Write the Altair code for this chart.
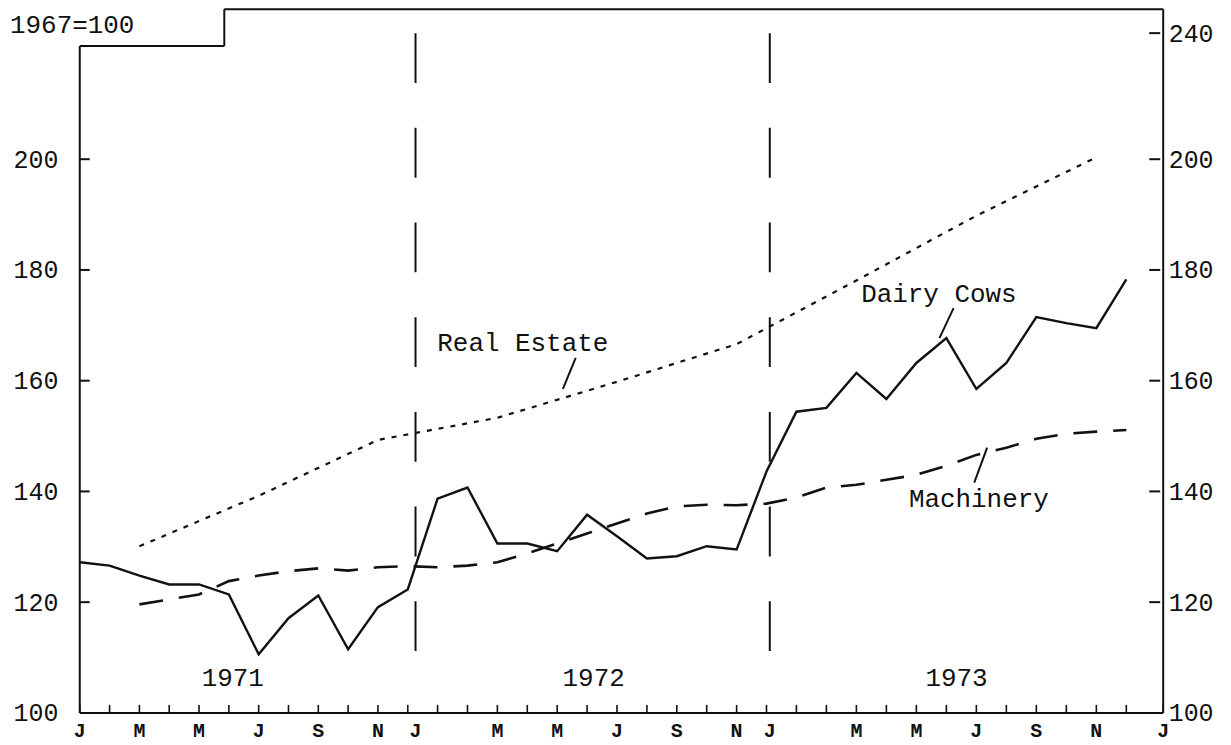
import altair as alt
import pandas as pd

# ---------------- data ----------------
dairy_month = list(range(0, 36))
dairy_cows = [127.2, 126.6, 124.8, 123.2, 123.2, 121.4, 110.6, 117.1, 121.2, 111.5, 119.1, 122.3,
              138.7, 140.7, 130.6, 130.6, 129.2, 135.8, 131.9, 127.9, 128.3, 130.1, 129.5, 143.6,
              154.4, 155.1, 161.4, 156.7, 163.2, 167.7, 158.5, 163.2, 171.5, 170.4, 169.5, 178.3]

machinery_month = list(range(2, 36))
machinery = [119.6, 120.5, 121.4, 123.8, 124.8, 125.6, 126.1, 125.7, 126.3, 126.5,
             126.3, 126.6, 127.2, 128.8, 130.6, 132.4, 134.2, 136.0, 137.3, 137.6, 137.5, 137.8,
             138.9, 140.7, 141.2, 142.1, 143.0, 144.6, 146.6, 147.9, 149.5, 150.4, 150.8, 151.1]

real_estate_month = [2, 6, 10, 14, 18, 22, 26, 30, 34]
real_estate = [130.1, 139.2, 149.3, 153.3, 159.8, 166.6, 178.1, 189.8, 200.6]

left_ticks = [100, 120, 140, 160, 180, 200]
right_ticks = [100, 120, 140, 160, 180, 200, 240]
all_months = list(range(0, 37))

label_months = [0, 2, 4, 6, 8, 10, 11.26, 14, 16, 18, 20, 22, 23.11, 26, 28, 30, 32, 34, 36]
label_text = ["J", "M", "M", "J", "S", "N", "J", "M", "M", "J", "S", "N", "J",
              "M", "M", "J", "S", "N", "J"]

year_month = [5.13, 17.22, 29.34]
year_value = [104.9, 104.9, 104.9]
year_text = ["1971", "1972", "1973"]

divider_month = [11.26, 23.11]

series_label_month = [11.99, 26.16, 27.75]
series_label_value = [165.3, 174.3, 137.1]
series_label_text = ["Real Estate", "Dairy Cows", "Machinery"]

leader_m1 = [16.62, 29.24, 30.36]
leader_v1 = [164.1, 173.1, 147.9]
leader_m2 = [16.19, 28.77, 29.93]
leader_v2 = [158.5, 167.7, 141.6]

# ---------------- layout ----------------
W, H = 1087, 706
INK = "#111111"
MONO = "Liberation Mono"

xs = alt.Scale(domain=[0, 12, 24, 35, 36], range=[0, 359, 719, 1050, W])
ys = alt.Scale(domain=[100, 200, 240, 247.6], range=[H, 150.5, 24, 0])

def X(field):
    return alt.X(field, type="quantitative", scale=xs, axis=None)

def Y(field, axis=None):
    return alt.Y(field, type="quantitative", scale=ys, axis=axis)

df_dairy = pd.DataFrame({"m": dairy_month, "v": dairy_cows})
df_mach = pd.DataFrame({"m": machinery_month, "v": machinery})
df_re = pd.DataFrame({"m": real_estate_month, "v": real_estate})

left_axis = alt.Axis(orient="left", values=left_ticks, domain=False, ticks=False, grid=False,
                     labelFont=MONO, labelFontSize=25, labelColor=INK, labelPadding=22,
                     title=None)
right_axis = alt.Axis(orient="right", values=right_ticks, domain=False, ticks=False, grid=False,
                      labelFont=MONO, labelFontSize=25, labelColor=INK, labelPadding=5,
                      title=None)

dairy = alt.Chart(df_dairy).mark_line(color=INK, strokeWidth=2.4).encode(
    x=X("m"), y=Y("v", left_axis))
mach = alt.Chart(df_mach).mark_line(color=INK, strokeWidth=2.6, strokeDash=[24, 16]).encode(
    x=X("m"), y=Y("v"))
re = alt.Chart(df_re).mark_line(color=INK, strokeWidth=2.2, strokeDash=[5, 7]).encode(
    x=X("m"), y=Y("v", right_axis))

# inward ticks
lt = alt.Chart(pd.DataFrame({"v": left_ticks[1:]})).mark_rule(color=INK, strokeWidth=2).encode(
    y=Y("v"), x=alt.value(0), x2=alt.value(10))
rt = alt.Chart(pd.DataFrame({"v": right_ticks[1:]})).mark_rule(color=INK, strokeWidth=2).encode(
    y=Y("v"), x=alt.value(W - 14), x2=alt.value(W - 3))
bt = alt.Chart(pd.DataFrame({"m": all_months})).mark_rule(color=INK, strokeWidth=1.6).encode(
    x=X("m"), y=alt.value(H), y2=alt.value(H - 8))

# dashed year dividers
div = alt.Chart(pd.DataFrame({"m": divider_month})).mark_rule(
    color=INK, strokeWidth=2, strokeDash=[50, 45]).encode(
    x=X("m"), y=alt.value(24), y2=alt.value(686))

# frame (stepped top-left corner)
def seg(x1, y1, x2, y2):
    return alt.Chart(pd.DataFrame({"k": [0]})).mark_rule(color=INK, strokeWidth=2).encode(
        x=alt.value(x1), x2=alt.value(x2), y=alt.value(y1), y2=alt.value(y2))

frame = [
    seg(0, 37, 0, H),
    seg(0, 37, 145, 37),
    seg(145, 0, 145, 37),
    seg(145, 0, W, 0),
    seg(W, 0, W, H),
    seg(0, H, W, H),
]

# text
months_txt = alt.Chart(pd.DataFrame({"m": label_months, "t": label_text})).mark_text(
    font=MONO, fontSize=20, color=INK, baseline="middle", align="center", fontWeight="bold").encode(
    x=X("m"), y=alt.value(H + 18), text="t:N")

years_txt = alt.Chart(pd.DataFrame({"m": year_month, "v": year_value, "t": year_text})).mark_text(
    font=MONO, fontSize=26, color=INK, baseline="alphabetic", align="center").encode(
    x=X("m"), y=Y("v"), text="t:N")

series_txt = alt.Chart(pd.DataFrame({"m": series_label_month, "v": series_label_value,
                                     "t": series_label_text})).mark_text(
    font=MONO, fontSize=26, color=INK, baseline="alphabetic", align="left").encode(
    x=X("m"), y=Y("v"), text="t:N")

leaders = alt.Chart(pd.DataFrame({"m1": leader_m1, "v1": leader_v1,
                                  "m2": leader_m2, "v2": leader_v2})).mark_rule(
    color=INK, strokeWidth=2).encode(
    x=X("m1"), x2="m2:Q", y=Y("v1"), y2="v2:Q")

base_txt = alt.Chart(pd.DataFrame({"t": ["1967=100"]})).mark_text(
    font=MONO, fontSize=26, color=INK, baseline="middle", align="left").encode(
    x=alt.value(-70), y=alt.value(16), text="t:N")

chart = alt.layer(
    div, *frame, lt, rt, bt, mach, re, dairy, leaders, series_txt, years_txt, months_txt, base_txt
).resolve_scale(y="independent").properties(
    width=W, height=H,
    autosize="none",
    padding={"left": 72, "top": 0, "right": 60, "bottom": 31},
    background="white",
).configure_view(stroke=None)

chart.save("out.html", embed_options={"renderer": "svg", "actions": False})
